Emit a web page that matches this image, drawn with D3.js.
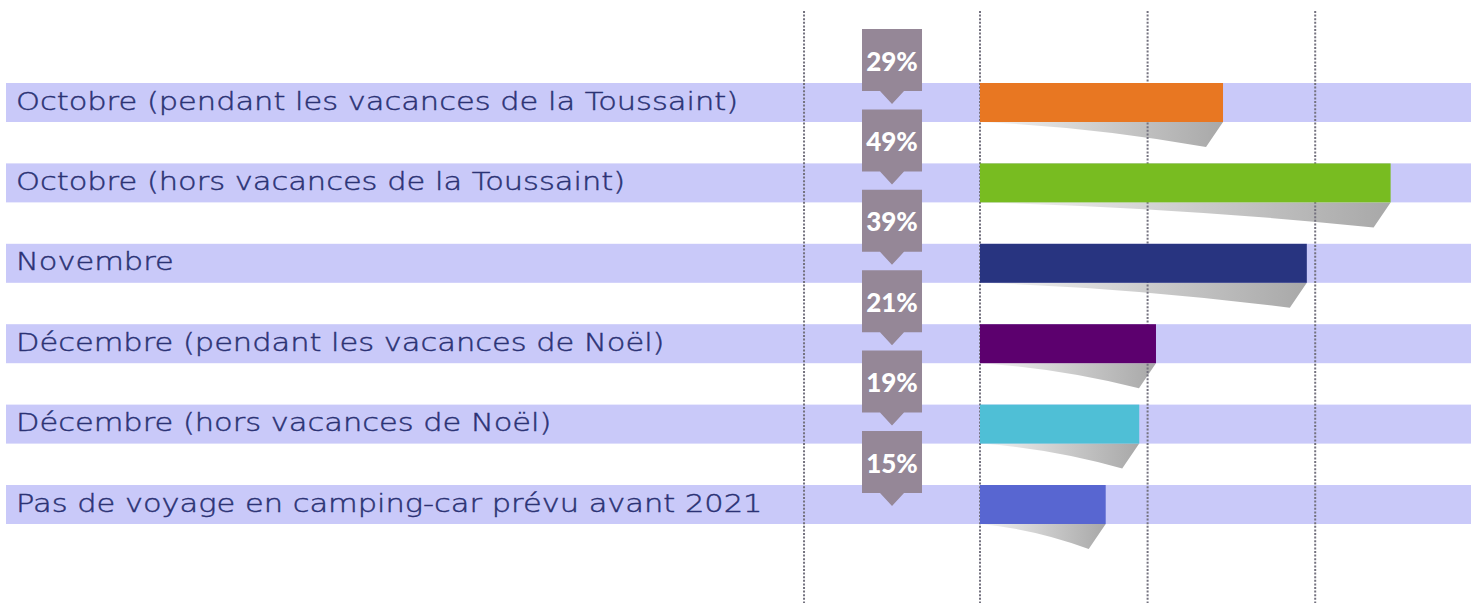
<!DOCTYPE html>
<html>
<head>
<meta charset="utf-8">
<script src="https://cdn.jsdelivr.net/npm/d3@7"></script>
<style>
  html, body { margin: 0; padding: 0; background: #ffffff; }
  svg { display: block; }
</style>
</head>
<body>
<svg id="chart" width="1477" height="603"></svg>
<script>
// ---- data ----
const categories = [
  "Octobre (pendant les vacances de la Toussaint)",
  "Octobre (hors vacances de la Toussaint)",
  "Novembre",
  "Décembre (pendant les vacances de Noël)",
  "Décembre (hors vacances de Noël)",
  "Pas de voyage en camping-car prévu avant 2021"
];
const values = [29, 49, 39, 21, 19, 15];
const valueLabels = ["29%", "49%", "39%", "21%", "19%", "15%"];
const barColors = ["#e87722", "#78bc21", "#283480", "#5c006e", "#4fbfd6", "#5866d1"];
const gridValues = [-21, 0, 20, 40];

// ---- layout ----
const W = 1477, H = 603;
const svg = d3.select("#chart");

const x = d3.scaleLinear().domain([0, 60]).range([980, 980 + 60 * 8.38]);
const y = d3.scaleBand().domain(categories).range([83, 524]).paddingInner(0.515).paddingOuter(0);

const bandLeft = 6, bandRight = 1471;
const badgeW = 60, badgeTop = 54, badgeBottom = 8, tipDepth = 21, tipHalf = 12;
const badgeCx = (x(gridValues[0]) + x(0)) / 2;

// gradient for shadows
const defs = svg.append("defs");
const grad = defs.append("linearGradient").attr("id", "shadowGrad")
  .attr("x1", "0%").attr("x2", "100%").attr("y1", "0%").attr("y2", "0%");
grad.append("stop").attr("offset", "0%").attr("stop-color", "#f4f4f4");
grad.append("stop").attr("offset", "55%").attr("stop-color", "#c9c9c9");
grad.append("stop").attr("offset", "100%").attr("stop-color", "#a8a8a8");

const rows = categories.map((c, i) => ({ cat: c, v: values[i], lab: valueLabels[i], col: barColors[i] }));

// bands
svg.append("g").selectAll("rect").data(rows).join("rect")
  .attr("x", bandLeft).attr("width", bandRight - bandLeft)
  .attr("y", d => y(d.cat)).attr("height", y.bandwidth())
  .attr("fill", "#c9c9f9");

// shadows
const shDepth = 25, shOff = 17;
svg.append("g").selectAll("path").data(rows).join("path")
  .attr("d", d => {
    const x0 = x(0), x1 = x(d.v), yb = y(d.cat) + y.bandwidth();
    const tx = x1 - shOff, ty = yb + shDepth;
    const cx = x0 + (tx - x0) * 0.5, cy = yb + shDepth * 0.2;
    return `M${x0},${yb} L${x1},${yb} L${tx},${ty} Q${cx},${cy} ${x0},${yb} Z`;
  })
  .attr("fill", "url(#shadowGrad)");

// gridlines
svg.append("g").selectAll("line").data(gridValues).join("line")
  .attr("x1", d => x(d)).attr("x2", d => x(d))
  .attr("y1", 11).attr("y2", H)
  .attr("stroke", "#74727f").attr("stroke-width", 2)
  .attr("stroke-dasharray", "2,1.6");

// bars
svg.append("g").selectAll("rect").data(rows).join("rect")
  .attr("x", x(0)).attr("width", d => x(d.v) - x(0))
  .attr("y", d => y(d.cat)).attr("height", y.bandwidth())
  .attr("fill", d => d.col);

// badges
const badges = svg.append("g").selectAll("g").data(rows).join("g");
badges.append("path")
  .attr("d", d => {
    const t = y(d.cat);
    const l = badgeCx - badgeW / 2, r = badgeCx + badgeW / 2;
    return `M${l},${t - badgeTop} L${r},${t - badgeTop} L${r},${t + badgeBottom} L${badgeCx + tipHalf},${t + badgeBottom} L${badgeCx},${t + tipDepth} L${badgeCx - tipHalf},${t + badgeBottom} L${l},${t + badgeBottom} Z`;
  })
  .attr("fill", "#958797");
badges.append("text")
  .attr("x", badgeCx)
  .attr("y", d => y(d.cat) - 12.5)
  .attr("text-anchor", "middle")
  .attr("font-family", "Lato, sans-serif")
  .attr("font-weight", 900)
  .attr("font-size", 26)
  .attr("fill", "#ffffff")
  .text(d => d.lab);

// category labels
const labelX = 16;
svg.append("g").selectAll("text").data(rows).join("text")
  .attr("transform", d => `translate(${labelX},${y(d.cat) + 26.5}) scale(1.195,1)`)
  .attr("font-family", "'DejaVu Sans', sans-serif")
  .attr("font-weight", 200)
  .attr("font-size", 25.5)
  .attr("fill", "#2b3274")
  .attr("stroke", "#2b3274")
  .attr("stroke-width", 0.45)
  .text(d => d.cat);
</script>
</body>
</html>
